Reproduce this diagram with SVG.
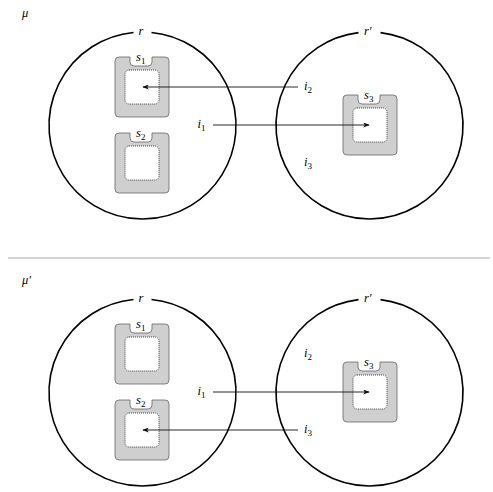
<svg xmlns="http://www.w3.org/2000/svg" xmlns:xlink="http://www.w3.org/1999/xlink" width="493" height="492" viewBox="0 0 493 492">
<style>
text{font-family:"Liberation Serif","DejaVu Serif",serif;font-style:italic;font-size:12.5px;fill:#000}
.sub{font-size:9px;font-style:normal}
.circ{fill:none;stroke:#000;stroke-width:1.6}
.box{fill:#cfcfcf;stroke:#666;stroke-width:0.8}
.inner{fill:#fff;stroke:#333;stroke-width:0.9;stroke-dasharray:1 1}
.conn{stroke:#111;stroke-width:0.9;fill:none;marker-end:url(#ah)}
</style>
<defs>
<marker id="ah" viewBox="0 0 8 6" refX="7" refY="3" markerWidth="7" markerHeight="5" markerUnits="userSpaceOnUse" orient="auto">
<path d="M0,0 L8,3 L0,6 L2,3 Z" fill="#111"/>
</marker>
<g id="srv">
<path class="box" d="M4,0 H15 V5 Q15,9 19,9 H33 Q37,9 37,5 V0 H50 Q54,0 54,4 V56 Q54,60 50,60 H4 Q0,60 0,56 V4 Q0,0 4,0 Z"/>
<rect class="inner" x="10" y="13" width="34" height="34" rx="4"/>
</g>
</defs>

<line x1="8" y1="258" x2="490" y2="258" stroke="#aaa" stroke-width="1"/>
<text x="22" y="17" font-size="13">μ</text>
<text x="22" y="284" font-size="13">μ′</text>

<!-- top section -->
<g id="r_top">
<path class="circ" d="M151.5,32.43 A93.5,93.5 0 1 1 133.5,32.43"/>
<text x="138.5" y="35">r</text>
</g>
<g id="rp_top">
<path class="circ" d="M380.5,32.65 A93.5,93.5 0 1 1 358.5,32.65"/>
<text x="364" y="35">r′</text>
</g>
<g id="s1_top"><use xlink:href="#srv" x="115" y="57"/><text x="136" y="61">s<tspan class="sub" dy="2.5">1</tspan></text></g>
<g id="s2_top"><use xlink:href="#srv" x="115" y="133"/><text x="136" y="137">s<tspan class="sub" dy="2.5">2</tspan></text></g>
<g id="s3_top"><use xlink:href="#srv" x="343" y="95"/><text x="364" y="99">s<tspan class="sub" dy="2.5">3</tspan></text></g>
<g id="i1_top"><text x="197.5" y="128">i<tspan class="sub" dy="2.5">1</tspan></text></g>
<g id="i2_top"><text x="304" y="90">i<tspan class="sub" dy="2.5">2</tspan></text></g>
<g id="i3_top"><text x="304" y="166">i<tspan class="sub" dy="2.5">3</tspan></text></g>

<!-- bottom section -->
<g id="r_bot">
<path class="circ" d="M151.5,299.43 A93.5,93.5 0 1 1 133.5,299.43"/>
<text x="138.5" y="302">r</text>
</g>
<g id="rp_bot">
<path class="circ" d="M380.5,299.65 A93.5,93.5 0 1 1 358.5,299.65"/>
<text x="364" y="302">r′</text>
</g>
<g id="s1_bot"><use xlink:href="#srv" x="115" y="324"/><text x="136" y="328">s<tspan class="sub" dy="2.5">1</tspan></text></g>
<g id="s2_bot"><use xlink:href="#srv" x="115" y="400"/><text x="136" y="404">s<tspan class="sub" dy="2.5">2</tspan></text></g>
<g id="s3_bot"><use xlink:href="#srv" x="343" y="362"/><text x="364" y="366">s<tspan class="sub" dy="2.5">3</tspan></text></g>
<g id="i1_bot"><text x="197.5" y="395">i<tspan class="sub" dy="2.5">1</tspan></text></g>
<g id="i2_bot"><text x="304" y="357">i<tspan class="sub" dy="2.5">2</tspan></text></g>
<g id="i3_bot"><text x="304" y="433">i<tspan class="sub" dy="2.5">3</tspan></text></g>

<g id="connectors">
<line class="conn" x1="298" y1="87" x2="143" y2="87"/>
<line class="conn" x1="213" y1="125" x2="369" y2="125"/>
<line class="conn" x1="213" y1="392" x2="369" y2="392"/>
<line class="conn" x1="298" y1="430" x2="143" y2="430"/>
</g>
</svg>
